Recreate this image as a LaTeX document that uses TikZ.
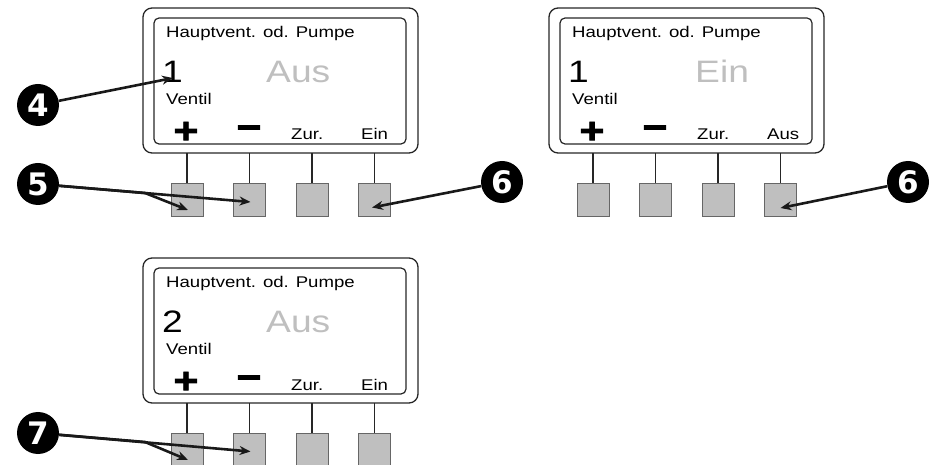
\documentclass[tikz,border=0pt]{standalone}
\usepackage{fontspec}
\setmainfont{Liberation Sans}[FakeStretch=1.2]
\newfontfamily\badgefont{DejaVu Sans}
\newfontfamily\signfont{Liberation Sans Bold}[FakeStretch=1.2, FakeBold=2]
\usetikzlibrary{arrows.meta}

\begin{document}
\begin{tikzpicture}[x=1pt, y=1pt,
  case/.style={draw=black!85, line width=1.3pt, rounded corners=9pt},
  lcd/.style={draw=black!85, line width=1.2pt, rounded corners=5pt},
  key/.style={draw=black!60, fill=black!25, line width=0.8pt, minimum width=32pt, minimum height=33pt, inner sep=0pt},
  small/.style={font=\fontsize{15.5}{18}\selectfont, inner sep=0pt, anchor=base west},
  big/.style={font=\fontsize{31}{36}\selectfont, inner sep=0pt, anchor=base west},
  sign/.style={font=\signfont\fontsize{36}{40}\selectfont, inner sep=0pt, anchor=base},
  badge/.style={circle, fill=black, text=white, minimum size=42pt, inner sep=0pt, font=\badgefont\fontsize{31}{36}\selectfont\bfseries},
  callout/.style={-{Stealth[length=11pt, width=9pt]}, line width=2.6pt, line join=round, black!90}]

  \useasboundingbox (0,0) rectangle (938,464);
  \clip (0,0) rectangle (938,464);

  % the three controller displays
  \foreach \p/\dx/\dy/\num/\state/\sx/\soft in {1/0/0/1/Aus/266/Ein, 2/406/0/1/Ein/289/Aus, 3/0/-250/2/Aus/266/Ein} {
    \begin{scope}[shift={(\dx,\dy)}]
      \draw[case] (143,311) rectangle (418,456);
      \draw[lcd] (154,320) rectangle (406,446);
      \node[small] (title\p) at (166,426) {Hauptvent. od. Pumpe};
      \node[big] (num\p) at (162,381) {\num};
      \node[big, text=black!25] (state\p) at (\sx,381) {\state};
      \node[small] (valve\p) at (166,359) {Ventil};
      \node[sign] (plus\p) at (186,321) {+};
      \node[sign] (minus\p) at (249,324.6) {−};
      \node[small] (back\p) at (291,324) {Zur.};
      \node[small] (soft\p) at (361,324) {\soft};
      % keys below the display
      \foreach \i in {1,...,4} {
        \node[key] (k\p\i) at (124.5+62.5*\i,264.5) {};
        \coordinate (s\p\i) at (124.5+62.5*\i,311);
        \draw[line width=1.2pt, black!85] (k\p\i) -- (s\p\i);
      }
    \end{scope}
  }

  % Callouts
  \node[badge] (n4) at (38,359) {4};
  \node[badge] (n5) at (38,280) {5};
  \node[badge] (n6) at (502,282) {6};
  \node[badge] (n6b) at (908,282) {6};
  \node[badge] (n7) at (38,31) {7};
  \coordinate (br5) at (145,271);
  \coordinate (br7) at (145,22);
  \draw[callout] (n4) -- ([xshift=11pt,yshift=5pt]num1.base west);
  \draw[callout] (n5) -- ([xshift=1pt,yshift=-2.5pt]k12.center);
  \draw[callout] (n5) -- (br5) -- ([xshift=1pt,yshift=-10.5pt]k11.center);
  \draw[callout] (n6) -- ([xshift=-2.5pt,yshift=-8pt]k14.center);
  \draw[callout] (n6b) -- ([yshift=-8.5pt]k24.center);
  \draw[callout] (n7) -- ([xshift=1pt,yshift=-2pt]k32.center);
  \draw[callout] (n7) -- (br7) -- ([xshift=1pt,yshift=-10.5pt]k31.center);
\end{tikzpicture}
\end{document}
